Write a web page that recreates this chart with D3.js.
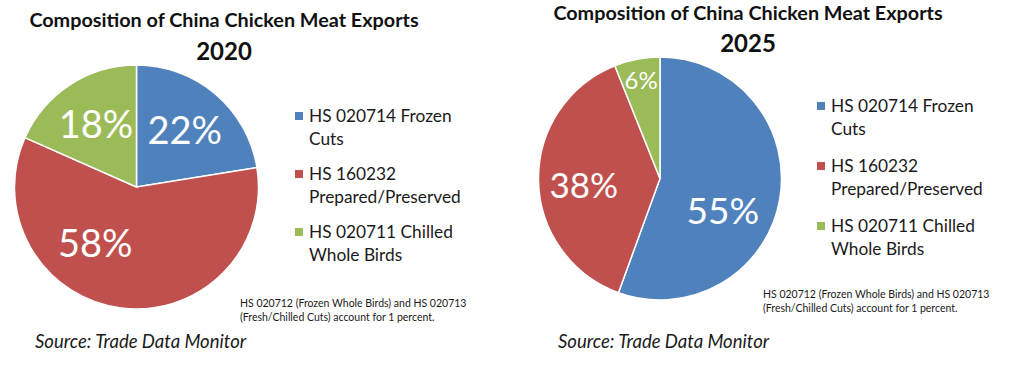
<!DOCTYPE html>
<html>
<head>
<meta charset="utf-8">
<script src="https://cdn.jsdelivr.net/npm/d3@7"></script>
<style>
  body { margin: 0; background: #fff; }
  svg { display: block; font-family: Lato, "Open Sans", sans-serif; }
</style>
</head>
<body>
<svg id="chart" width="1024" height="368"></svg>
<script>
// data
const categories = ["HS 020714 Frozen Cuts", "HS 160232 Prepared/Preserved", "HS 020711 Chilled Whole Birds"];
const legendLines = [["HS 020714 Frozen", "Cuts"], ["HS 160232", "Prepared/Preserved"], ["HS 020711 Chilled", "Whole Birds"]];
const years = ["2020", "2025"];
const shares2020 = [22, 58, 18];
const shares2025 = [55, 38, 6];
const chartTitle = "Composition of China Chicken Meat Exports";
const footnote = ["HS 020712 (Frozen Whole Birds) and HS 020713", "(Fresh/Chilled Cuts) account for 1 percent."];
const sourceText = "Source: Trade Data Monitor";

const colors = d3.scaleOrdinal().domain(categories).range(["#4f81bd", "#c0504d", "#9bbb59"]);

// layout for each panel (positions only, no data)
const panels = [
  { year: years[0], values: shares2020, cx: 136.5, cy: 187, r: 122,
    titleX: 224, titleY: 27, yearY: 60,
    legendX: 295, legendY: 122, groupGap: 58,
    noteX: 240, noteY: 307, sourceX: 35,
    labelNudge: [0, 29, 0], labelRatio: [0.61, 0.57, 0.61], labelSize: [38, 38, 38] },
  { year: years[1], values: shares2025, cx: 660, cy: 178.5, r: 121.5,
    titleX: 748, titleY: 20, yearY: 52,
    legendX: 817, legendY: 112, groupGap: 60,
    noteX: 763, noteY: 298, sourceX: 558,
    labelNudge: [17, -4, 0], labelRatio: [0.58, 0.63, 0.82], labelSize: [37, 35, 24] }
];

const svg = d3.select("#chart");
const pie = d3.pie().sort(null).value(d => d.value);

function drawPanel(p) {
  const g = svg.append("g");

  g.append("text")
    .attr("x", p.titleX).attr("y", p.titleY)
    .attr("text-anchor", "middle")
    .style("font-weight", "bold").style("font-size", "19.8px").style("fill", "#111")
    .text(chartTitle);

  g.append("text")
    .attr("x", p.titleX).attr("y", p.yearY)
    .attr("text-anchor", "middle")
    .style("font-weight", "bold").style("font-size", "24px").style("fill", "#111")
    .text(p.year);

  const data = categories.map((c, i) => ({ name: c, value: p.values[i] }));
  const arcs = pie(data);
  const arc = d3.arc().innerRadius(0).outerRadius(p.r);

  const pg = g.append("g").attr("transform", "translate(" + p.cx + "," + p.cy + ")");

  pg.selectAll("path")
    .data(arcs)
    .join("path")
    .attr("d", arc)
    .attr("fill", d => colors(d.data.name))
    .attr("stroke", "#fff")
    .attr("stroke-width", 1.5);

  // percent labels, a bit off the centroid like excel places them
  pg.selectAll("text.pct")
    .data(arcs)
    .join("text")
    .attr("class", "pct")
    .attr("transform", (d, i) => {
      const a = (d.startAngle + d.endAngle) / 2 + p.labelNudge[i] * Math.PI / 180;
      const rr = p.r * p.labelRatio[i];
      return "translate(" + (rr * Math.sin(a)) + "," + (-rr * Math.cos(a)) + ")";
    })
    .attr("text-anchor", "middle")
    .attr("dy", "0.36em")
    .style("font-size", (d, i) => p.labelSize[i] + "px")
    .style("fill", "#fff")
    .text(d => d.data.value + "%");

  // legend
  const lg = g.append("g").attr("transform", "translate(" + p.legendX + "," + p.legendY + ")");
  const items = lg.selectAll("g")
    .data(categories)
    .join("g")
    .attr("transform", (d, i) => "translate(0," + (i * p.groupGap) + ")");

  items.append("rect")
    .attr("x", 0).attr("y", -10)
    .attr("width", 8).attr("height", 8)
    .attr("fill", d => colors(d));

  items.append("text")
    .attr("x", 14).attr("y", 0)
    .style("font-size", "17.3px").style("fill", "#1a1a1a")
    .selectAll("tspan")
    .data((d, i) => legendLines[i])
    .join("tspan")
    .attr("x", 14)
    .attr("dy", (d, j) => j === 0 ? 0 : 22.5)
    .text(d => d);

  // footnote
  g.append("text")
    .attr("x", p.noteX).attr("y", p.noteY)
    .style("font-size", "10.5px").style("fill", "#1a1a1a")
    .selectAll("tspan")
    .data(footnote)
    .join("tspan")
    .attr("x", p.noteX)
    .attr("dy", (d, j) => j === 0 ? 0 : 13.5)
    .text(d => d);

  g.append("text")
    .attr("x", p.sourceX).attr("y", 348)
    .style("font-size", "18.5px").style("font-style", "italic").style("fill", "#1a1a1a")
    .text(sourceText);
}

panels.forEach(drawPanel);
</script>
</body>
</html>
